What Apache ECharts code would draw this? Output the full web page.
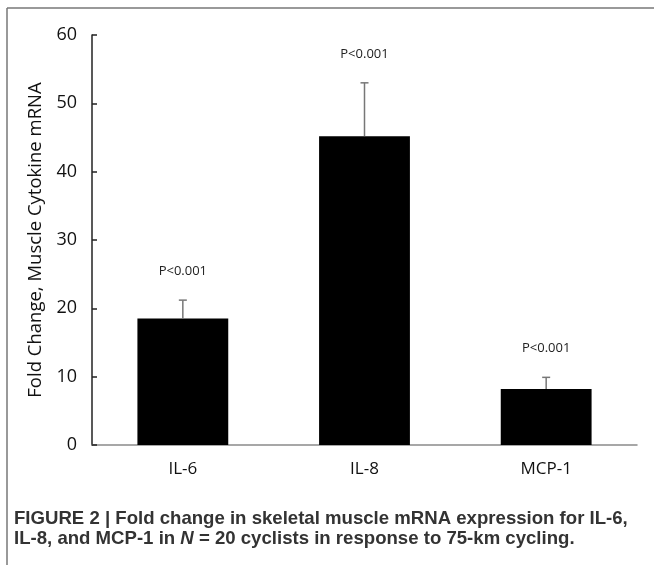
<!DOCTYPE html>
<html>
<head>
<meta charset="utf-8">
<script src="https://cdn.jsdelivr.net/npm/echarts@6/dist/echarts.min.js"></script>
<style>
html,body{margin:0;padding:0;background:#fff;}
#chart{width:654px;height:565px;}
</style>
</head>
<body>
<div id="chart"></div>
<script>
const categories = ['IL-6', 'IL-8', 'MCP-1'];
const meanValues = [18.5, 45.2, 8.2];
const errorTops = [21.2, 53.0, 9.9];
const pLabels = ['P<0.001', 'P<0.001', 'P<0.001'];
const yTicks = [0, 10, 20, 30, 40, 50, 60];

const chart = echarts.init(document.getElementById('chart'), null, {renderer: 'canvas'});

const errData = categories.map((c, i) => [i, meanValues[i], errorTops[i], pLabels[i]]);

const option = {
  animation: false,
  backgroundColor: '#fff',
  grid: {left: 92, right: 17, top: 35, bottom: 120, containLabel: false},
  xAxis: {
    type: 'category',
    data: categories,
    axisLine: {lineStyle: {color: '#8a8a8a', width: 1.5}},
    axisTick: {show: false},
    axisLabel: {color: '#111', fontSize: 17, fontFamily: 'Open Sans', margin: 16}
  },
  yAxis: {
    type: 'value',
    min: yTicks[0],
    max: yTicks[yTicks.length - 1],
    interval: 10,
    name: 'Fold Change, Muscle Cytokine mRNA',
    nameLocation: 'middle',
    nameRotate: 90,
    nameGap: 35,
    nameTextStyle: {color: '#111', fontSize: 18.5, fontFamily: 'Open Sans'},
    axisLine: {show: true, lineStyle: {color: '#222', width: 1.5}},
    axisTick: {show: true, inside: true, length: 5, lineStyle: {color: '#222', width: 1.5}},
    axisLabel: {color: '#111', fontSize: 18, fontFamily: 'Open Sans', margin: 15},
    splitLine: {show: false}
  },
  series: [
    {
      type: 'bar',
      data: meanValues,
      barWidth: '50%',
      itemStyle: {color: '#000'},
      z: 2
    },
    {
      type: 'custom',
      data: errData,
      z: 3,
      renderItem: function (params, api) {
        const x = api.value(0);
        const lo = api.coord([x, api.value(1)]);
        const hi = api.coord([x, api.value(2)]);
        const cap = 4;
        return {
          type: 'group',
          children: [
            {type: 'line', shape: {x1: lo[0], y1: lo[1], x2: hi[0], y2: hi[1]}, style: {stroke: '#777', lineWidth: 1.5}},
            {type: 'line', shape: {x1: hi[0] - cap, y1: hi[1], x2: hi[0] + cap, y2: hi[1]}, style: {stroke: '#777', lineWidth: 1.5}},
            {type: 'text', x: hi[0], y: hi[1] - 29, style: {text: api.value(3), fill: '#222', font: '13px "Open Sans"', textAlign: 'center', textVerticalAlign: 'middle'}}
          ]
        };
      }
    }
  ],
  graphic: [
    {type: 'line', shape: {x1: 7, y1: 8, x2: 654, y2: 8}, style: {stroke: '#777', lineWidth: 1.5}},
    {type: 'line', shape: {x1: 7, y1: 8, x2: 7, y2: 565}, style: {stroke: '#777', lineWidth: 1.5}},
    {
      type: 'text', left: 14, top: 509,
      style: {
        text: '{b|FIGURE 2 | Fold change in skeletal muscle mRNA expression for IL-6,}\n{b|IL-8, and MCP-1 in }{i|N}{b| = 20 cyclists in response to 75-km cycling.}',
        rich: {
          b: {font: 'bold 18.6px "Liberation Sans", Arial, sans-serif', fill: '#333', lineHeight: 20},
          i: {font: 'italic bold 18.6px "Liberation Sans", Arial, sans-serif', fill: '#333', lineHeight: 20}
        }
      }
    }
  ]
};
chart.setOption(option);
</script>
</body>
</html>
